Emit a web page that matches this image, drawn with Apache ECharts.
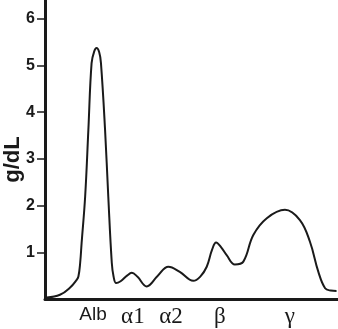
<!DOCTYPE html>
<html>
<head>
<meta charset="utf-8">
<script src="https://cdn.jsdelivr.net/npm/echarts@6/dist/echarts.min.js"></script>
<style>
html,body{margin:0;padding:0;background:#fff;}
#chart{width:338px;height:329px;}
</style>
</head>
<body>
<div id="chart"></div>
<script>
// Electrophoretic mobility (0-100) and protein concentration (g/dL)
var mobility = [0.6, 5.1, 8.5, 10.8, 11.4, 12.0, 12.5, 13.7, 14.8, 15.9, 16.8, 17.6, 18.5, 19.1, 20.5, 21.6, 22.8, 23.4, 24.3, 25.8, 28.0, 29.6, 31.5, 34.7, 38.5, 42.1, 46.0, 50.6, 53.0, 55.2, 57.0, 58.4, 60.2, 62.0, 64.8, 67.7, 71.1, 75.7, 81.9, 87.0, 90.4, 93.3, 95.6, 97.5, 99.5];
var conc     = [0.03, 0.09, 0.24, 0.41, 0.48, 0.77, 1.2, 2.19, 3.62, 5.05, 5.3, 5.37, 5.28, 5.05, 3.62, 2.19, 0.77, 0.48, 0.34, 0.38, 0.50, 0.56, 0.48, 0.27, 0.50, 0.69, 0.58, 0.39, 0.48, 0.69, 1.05, 1.21, 1.10, 0.94, 0.74, 0.80, 1.37, 1.73, 1.91, 1.69, 1.23, 0.58, 0.23, 0.18, 0.17];
var bandNames = ['Alb', 'α1', 'α2', 'β', 'γ'];
var bandPos   = [16.4, 30.0, 43.0, 59.7, 83.6];
var yTicks    = [1, 2, 3, 4, 5, 6];

var points = mobility.map(function (m, i) { return [m, conc[i]]; });

var chart = echarts.init(document.getElementById('chart'));
chart.setOption({
  animation: false,
  backgroundColor: '#fff',
  grid: { left: 45, right: 0, top: 0, bottom: 30, containLabel: false, outerBoundsMode: 'none' },
  xAxis: {
    type: 'value', min: 0, max: 100,
    splitLine: { show: false },
    axisLine: { show: true, lineStyle: { color: '#1a1a1a', width: 3 } },
    axisTick: { show: false },
    axisLabel: {
      customValues: bandPos,
      margin: 6,
      formatter: function (v) {
        var i = bandPos.indexOf(v);
        if (i < 0) return '';
        return i === 0 ? '{s|' + bandNames[i] + '}' : '{g|' + bandNames[i] + '}';
      },
      rich: {
        s: { fontFamily: 'Liberation Sans', fontSize: 19, color: '#1a1a1a' },
        g: { fontFamily: 'Liberation Serif', fontSize: 23, color: '#1a1a1a' }
      }
    }
  },
  yAxis: {
    type: 'value', min: 0, max: 6.4,
    splitLine: { show: false },
    axisLine: { show: true, lineStyle: { color: '#1a1a1a', width: 3 } },
    axisTick: { show: true, customValues: yTicks, length: 8, lineStyle: { color: '#1a1a1a', width: 1.5 } },
    axisLabel: {
      customValues: yTicks,
      margin: 10,
      fontFamily: 'Liberation Sans', fontSize: 16, fontWeight: 'bold', color: '#1a1a1a'
    },
    name: 'g/dL',
    nameLocation: 'middle',
    nameGap: 21,
    nameMoveOverlap: false,
    nameTextStyle: { fontFamily: 'Liberation Sans', fontSize: 22, fontWeight: 'bold', color: '#1a1a1a', padding: [0, 20, 0, 0] }
  },
  series: [{
    type: 'line',
    data: points,
    smooth: 0.4,
    showSymbol: false,
    lineStyle: { color: '#1a1a1a', width: 2 }
  }]
});
</script>
</body>
</html>
